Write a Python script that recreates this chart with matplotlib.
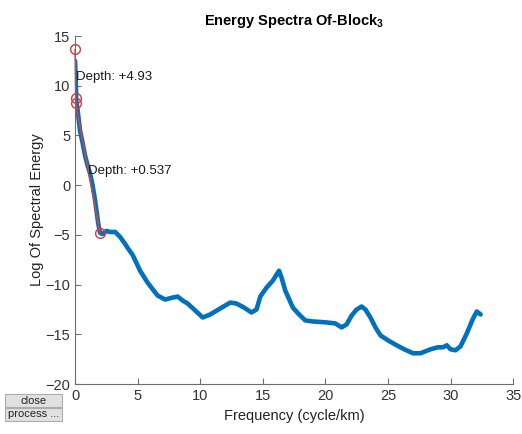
import matplotlib.pyplot as plt
from matplotlib.patches import Rectangle

plt.rcParams['font.family'] = ['Liberation Sans', 'DejaVu Sans']
plt.rcParams['mathtext.fontset'] = 'custom'
plt.rcParams['mathtext.rm'] = 'Liberation Sans'
plt.rcParams['mathtext.bf'] = 'Liberation Sans:bold'

# ---------------- data ----------------
freq = [0.0, 0.05, 0.1, 0.2, 0.4, 0.6, 0.8, 1.0, 1.2, 1.4, 1.6, 1.85, 2.0, 2.2,
        2.5, 2.8, 3.2, 3.6, 4.0, 4.2, 4.6, 5.2, 5.8, 6.6, 7.2, 7.8, 8.2, 8.6,
        9.0, 9.6, 10.2, 10.8, 11.6, 12.4, 12.9, 13.5, 14.1, 14.5, 14.8, 15.3,
        15.8, 16.3, 16.5, 16.8, 17.4, 17.9, 18.4, 19.0, 20.1, 20.8, 21.3, 21.7,
        22.1, 22.5, 22.9, 23.2, 23.6, 24.0, 24.4, 25.0, 25.7, 26.3, 27.0, 27.6,
        28.4, 29.0, 29.4, 29.7, 30.0, 30.4, 30.8, 31.3, 31.8, 32.1, 32.4]
log_energy = [12.5, 10.9, 8.5, 7.6, 5.5, 4.3, 3.0, 2.0, 1.2, 0.0, -1.5, -3.8,
              -4.8, -4.9, -4.6, -4.7, -4.7, -5.2, -5.9, -6.3, -7.0, -8.6, -9.8,
              -11.1, -11.5, -11.3, -11.2, -11.6, -11.9, -12.6, -13.3, -13.0,
              -12.4, -11.8, -11.9, -12.3, -12.8, -12.5, -11.2, -10.3, -9.6,
              -8.6, -9.3, -10.6, -12.3, -13.0, -13.6, -13.7, -13.8, -13.9,
              -14.3, -14.0, -13.1, -12.5, -12.2, -12.5, -13.3, -14.3, -15.1,
              -15.6, -16.1, -16.5, -16.9, -16.9, -16.5, -16.3, -16.3, -16.1,
              -16.5, -16.6, -16.2, -14.9, -13.4, -12.7, -13.0]

# segments picked on the spectrum
seg_x = [0.0, 0.05, 0.05, 2.0]
seg_y = [13.65, 8.75, 8.25, -4.8]
depth_labels = ["Depth: +4.93", "Depth: +0.537"]
depth_x = [0.1, 1.0]
depth_y = [10.9, 1.4]

# ---------------- figure ----------------
fig = plt.figure(figsize=(5.22, 4.34), dpi=100)
ax = fig.add_axes([0.1437, 0.115, 0.8393, 0.802])

ax.plot(freq, log_energy, color='#0072BD', linewidth=3.3, solid_capstyle='round')
ax.plot(seg_x, seg_y, color='#E8402A', linewidth=1.0, marker='o',
        markersize=7, markerfacecolor='none', markeredgecolor='#D9363E',
        clip_on=False)
for lab, tx, ty in zip(depth_labels, depth_x, depth_y):
    ax.text(tx, ty, lab, fontsize=9.5, ha='left', va='center', color='#1a1a1a')

ax.set_xlim(0, 35)
ax.set_ylim(-20, 15)
ax.set_xticks(range(0, 36, 5))
ax.set_yticks(range(-20, 16, 5))
for s in ['top', 'right']:
    ax.spines[s].set_visible(False)
for s in ['left', 'bottom']:
    ax.spines[s].set_color('#6e6e6e')
ax.tick_params(direction='in', length=4, colors='#6e6e6e', labelcolor='#333333',
               labelsize=10.5)

ax.set_xlabel('Frequency (cycle/km)', fontsize=10.5, color='#222222')
ax.set_ylabel('Log Of Spectral Energy', fontsize=10.5, color='#222222', labelpad=1)
ax.set_title('Energy Spectra Of-Block$_\\mathbf{3}$', fontsize=10.5,
             fontweight='bold', pad=8)

# gui buttons
for y0, lab in [(0.062, 'close'), (0.031, 'process ...')]:
    fig.add_artist(Rectangle((0.0096, y0), 0.109, 0.030, transform=fig.transFigure,
                             facecolor='#e1e1e1', edgecolor='#adadad', linewidth=0.8))
    fig.text(0.064, y0 + 0.015, lab, fontsize=8, ha='center', va='center',
             color='#222222')

fig.savefig('out.png', dpi=100)
